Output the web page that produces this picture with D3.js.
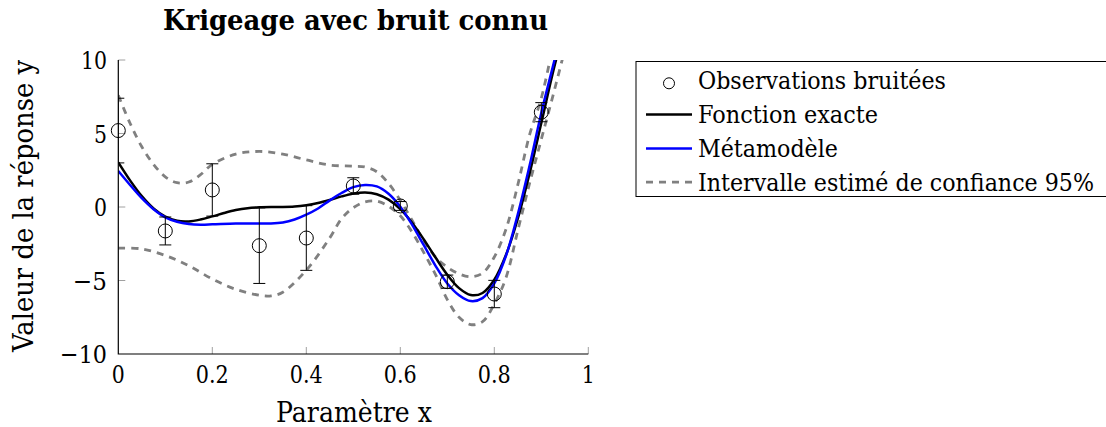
<!DOCTYPE html>
<html><head><meta charset="utf-8">
<script src="https://cdn.jsdelivr.net/npm/d3@7"></script>
<style>body{margin:0;background:#fff}svg{display:block}svg text{font-family:"DejaVu Serif",serif;fill:#000}</style>
</head><body>
<svg id="c" width="1106" height="427" font-family="DejaVu Serif, serif"></svg>
<script>
// ---- data ----
const obsX   = [0, 0.1, 0.2, 0.3, 0.4, 0.5, 0.6, 0.7, 0.8, 0.9];
const obsY   = [5.2, -1.63, 1.16, -2.63, -2.11, 1.43, 0.07, -5.08, -5.92, 6.45];
const obsErr = [2.2, 0.95, 1.78, 2.57, 2.2, 0.56, 0.3, 0.45, 0.93, 0.65];

const exactX = [0,0.025,0.05,0.075,0.1,0.125,0.15,0.175,0.2,0.225,0.25,0.275,0.3,0.325,0.35,0.375,0.4,0.425,0.45,0.475,0.5,0.525,0.55,0.575,0.6,0.625,0.65,0.675,0.7,0.725,0.75,0.775,0.8,0.825,0.85,0.875,0.9,0.925,0.95];
const exactY = [3.03,1.81,0.74,-0.10,-0.66,-0.94,-0.98,-0.85,-0.64,-0.41,-0.21,-0.08,-0.02,0.0,0.0,0.03,0.12,0.27,0.48,0.72,0.91,0.99,0.87,0.50,-0.15,-1.07,-2.21,-3.44,-4.61,-5.52,-5.99,-5.85,-4.95,-3.25,-0.80,2.27,5.71,9.19,12.3];

const metaX = [0,0.025,0.05,0.075,0.1,0.125,0.15,0.175,0.2,0.25,0.3,0.325,0.35,0.375,0.4,0.425,0.45,0.475,0.5,0.525,0.55,0.575,0.6,0.625,0.65,0.675,0.7,0.725,0.75,0.775,0.8,0.825,0.85,0.875,0.9,0.925,0.95];
const metaY = [2.45,1.5,0.6,-0.15,-0.7,-1.0,-1.15,-1.2,-1.18,-1.12,-1.12,-1.12,-1.05,-0.85,-0.52,-0.1,0.45,0.95,1.35,1.5,1.4,0.9,0.02,-1.2,-2.6,-4.0,-5.2,-6.0,-6.4,-6.2,-5.2,-3.3,-0.5,2.8,6.4,9.6,12.8];

const upX = [0,0.025,0.05,0.075,0.1,0.125,0.15,0.175,0.2,0.25,0.3,0.35,0.4,0.45,0.5,0.525,0.55,0.575,0.6,0.625,0.65,0.675,0.7,0.725,0.75,0.775,0.8,0.825,0.85,0.875,0.9,0.925];
const upY = [7.6,5.7,4.1,2.9,2.05,1.65,1.7,2.2,2.9,3.6,3.78,3.6,3.2,2.85,2.78,2.72,2.4,1.6,0.45,-0.9,-2.3,-3.4,-4.1,-4.55,-4.75,-4.5,-3.4,-1.5,1.5,4.9,7.4,11];

const loX = [0,0.05,0.1,0.15,0.2,0.25,0.3,0.325,0.35,0.4,0.45,0.475,0.5,0.525,0.55,0.575,0.6,0.625,0.65,0.675,0.7,0.725,0.75,0.775,0.8,0.825,0.85,0.875,0.9,0.925,0.95];
const loY = [-2.8,-2.85,-3.3,-4.0,-4.9,-5.6,-6.0,-6.05,-5.8,-4.3,-2.1,-0.8,-0.05,0.35,0.4,0.05,-0.6,-1.7,-3.1,-4.6,-6.3,-7.5,-8.0,-7.8,-6.6,-4.8,-1.6,1.6,4.6,7.6,10.7];

const xTicks = [0, 0.2, 0.4, 0.6, 0.8, 1];
const xTickLabels = ["0", "0.2", "0.4", "0.6", "0.8", "1"];
const yTicks = [-10, -5, 0, 5, 10];
const yTickLabels = ["\u221210", "\u22125", "0", "5", "10"];

const title = "Krigeage avec bruit connu";
const xLabel = "Paramètre x";
const yLabel = "Valeur de la réponse y";
const legendLabels = ["Observations bruitées", "Fonction exacte", "Métamodèle", "Intervalle estimé de confiance 95%"];

// ---- layout ----
const L = 118.3, R = 588.3, T = 60, B = 354;
const svg = d3.select("#c");
const x = d3.scaleLinear().domain([0, 1]).range([L, R]);
const y = d3.scaleLinear().domain([-10, 10]).range([B, T]);

svg.append("defs").append("clipPath").attr("id", "clip")
  .append("rect").attr("x", L).attr("y", T).attr("width", R - L).attr("height", B - T);

// ticks (inward, gray)
const tickCol = "#a0a0a0";
svg.append("g").selectAll("line").data(xTicks.slice(1)).join("line")
  .attr("x1", d => x(d)).attr("x2", d => x(d)).attr("y1", B).attr("y2", B - 7)
  .attr("stroke", tickCol).attr("stroke-width", 1);
svg.append("g").selectAll("line").data(yTicks.slice(1)).join("line")
  .attr("x1", L).attr("x2", L + 7).attr("y1", d => y(d)).attr("y2", d => y(d))
  .attr("stroke", tickCol).attr("stroke-width", 1);

// tick labels
const fs = 25;
const tw = {"0":13, "0.2":33, "0.4":33, "0.6":33, "0.8":33, "1":13, "\u221210":47, "\u22125":34, "5":13, "10":26};
svg.append("g").selectAll("text").data(xTicks).join("text")
  .attr("x", d => x(d)).attr("y", 383).attr("text-anchor", "middle")
  .attr("font-size", fs).attr("textLength", (d, i) => tw[xTickLabels[i]])
  .attr("lengthAdjust", "spacingAndGlyphs").text((d, i) => xTickLabels[i]);
svg.append("g").selectAll("text").data(yTicks).join("text")
  .attr("x", 107).attr("y", d => y(d) + 9).attr("text-anchor", "end")
  .attr("font-size", fs).attr("textLength", (d, i) => tw[yTickLabels[i]])
  .attr("lengthAdjust", "spacingAndGlyphs").text((d, i) => yTickLabels[i]);

// lines
const plot = svg.append("g").attr("clip-path", "url(#clip)");
const mk = (xs, ys) => xs.map((v, i) => [v, ys[i]]);
const line = d3.line().x(d => x(d[0])).y(d => y(d[1])).curve(d3.curveCatmullRom.alpha(0.5));

plot.append("path").attr("d", line(mk(upX, upY))).attr("fill", "none")
  .attr("stroke", "#808080").attr("stroke-width", 2.8).attr("stroke-dasharray", "7,6");
plot.append("path").attr("d", line(mk(loX, loY))).attr("fill", "none")
  .attr("stroke", "#808080").attr("stroke-width", 2.8).attr("stroke-dasharray", "7,6");
plot.append("path").attr("d", line(mk(exactX, exactY))).attr("fill", "none")
  .attr("stroke", "#000").attr("stroke-width", 2.5);
plot.append("path").attr("d", line(mk(metaX, metaY))).attr("fill", "none")
  .attr("stroke", "#0000ff").attr("stroke-width", 2.5);

// error bars (clipped)
const eb = plot.append("g").attr("stroke", "#000").attr("stroke-width", 1);
obsX.forEach((xv, i) => {
  const cx = x(xv), y1 = y(obsY[i] + obsErr[i]), y2 = y(obsY[i] - obsErr[i]);
  eb.append("line").attr("x1", cx).attr("x2", cx).attr("y1", y1).attr("y2", y2);
  eb.append("line").attr("x1", cx - 6).attr("x2", cx + 6).attr("y1", y1).attr("y2", y1);
  eb.append("line").attr("x1", cx - 6).attr("x2", cx + 6).attr("y1", y2).attr("y2", y2);
});

// markers
svg.append("g").selectAll("circle").data(obsX).join("circle")
  .attr("cx", d => x(d)).attr("cy", (d, i) => y(obsY[i])).attr("r", 7)
  .attr("fill", "none").attr("stroke", "#000").attr("stroke-width", 1);

// axis lines
svg.append("path").attr("d", `M${L},${T}V${B}H${R}`).attr("fill", "none")
  .attr("stroke", "#000").attr("stroke-width", 1.2);

// title & labels
svg.append("text").attr("x", 355.5).attr("y", 30).attr("text-anchor", "middle")
  .attr("font-size", 27).attr("font-weight", "bold")
  .attr("textLength", 385).attr("lengthAdjust", "spacingAndGlyphs").text(title);
svg.append("text").attr("x", 354).attr("y", 421.5).attr("text-anchor", "middle")
  .attr("font-size", 27).attr("textLength", 156).attr("lengthAdjust", "spacingAndGlyphs").text(xLabel);
svg.append("text").attr("transform", "translate(33.3,206) rotate(-90)").attr("text-anchor", "middle")
  .attr("font-size", 27).attr("textLength", 292).attr("lengthAdjust", "spacingAndGlyphs").text(yLabel);

// legend
const lg = svg.append("g");
lg.append("rect").attr("x", 636).attr("y", 61.5).attr("width", 520).attr("height", 135)
  .attr("fill", "#fff").attr("stroke", "#000").attr("stroke-width", 1);
const rowBase = [89.3, 123.1, 156.9, 190.7];
const legendWidths = [248, 180, 140, 396];
lg.append("circle").attr("cx", 669).attr("cy", rowBase[0] - 6).attr("r", 5.5)
  .attr("fill", "none").attr("stroke", "#000").attr("stroke-width", 1);
lg.append("line").attr("x1", 646).attr("x2", 692).attr("y1", rowBase[1] - 8.5).attr("y2", rowBase[1] - 8.5)
  .attr("stroke", "#000").attr("stroke-width", 2.5);
lg.append("line").attr("x1", 646).attr("x2", 692).attr("y1", rowBase[2] - 8.5).attr("y2", rowBase[2] - 8.5)
  .attr("stroke", "#0000ff").attr("stroke-width", 2.5);
lg.append("line").attr("x1", 646).attr("x2", 692).attr("y1", rowBase[3] - 8.5).attr("y2", rowBase[3] - 8.5)
  .attr("stroke", "#808080").attr("stroke-width", 2.8).attr("stroke-dasharray", "7,6");
lg.selectAll("text.l").data(legendLabels).join("text").attr("class", "l")
  .attr("transform", (d, i) => `translate(698,${rowBase[i]}) scale(1,1.13)`)
  .attr("font-size", 22)
  .attr("textLength", (d, i) => legendWidths[i]).attr("lengthAdjust", "spacingAndGlyphs").text(d => d);
</script>
</body></html>
